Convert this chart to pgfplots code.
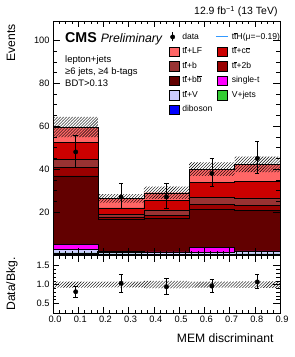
\documentclass[border=0pt]{standalone}
\usepackage{fontspec}
\setmainfont{Liberation Sans}
\usepackage{pgfplots}
\usepackage{pgfplotstable}
\pgfplotsset{compat=1.18}
\usetikzlibrary{patterns}

\definecolor{cLF}{HTML}{FF6666}
\definecolor{cCC}{HTML}{CC0000}
\definecolor{cB}{HTML}{993333}
\definecolor{cTwoB}{HTML}{990000}
\definecolor{cBB}{HTML}{620000}
\definecolor{cST}{HTML}{FF00FF}
\definecolor{cTTV}{HTML}{CCCCFF}
\definecolor{cVJ}{HTML}{33CC33}
\definecolor{cDIB}{HTML}{0000FF}
\definecolor{cTTH}{HTML}{3399FF}

\newcommand{\ob}[1]{\vbox{\hrule height 0.35pt\kern0.6pt\hbox{#1}}}
\newcommand{\lt}[1]{\makebox[32.5bp][l]{\kern1.5bp#1}}

% background per bin (lower edge), last row repeats the last bin
\pgfplotstableread{
lo   dib vj  ttv st  bb   btwo b   cc  lf
0.00 0.2 0.8 1.7 2.2 31.9 4.1 3.7 8.0 7.0
0.18 0.2 0.3 0.7 0.6 14.8 1.2 1.1 3.1 4.4
0.36 0.2 0.2 0.8 0.3 15.6 1.4 2.4 4.7 3.4
0.54 0.2 0.2 0.8 2.3 17.9 2.3 3.2 7.0 6.1
0.72 0.2 0.3 1.2 0.2 19.0 2.3 3.4 7.8 7.8
0.90 0.2 0.3 1.2 0.2 19.0 2.3 3.4 7.8 7.8
}\bkg
\pgfplotstablecreatecol[create col/expr={\thisrow{dib}}]{c1}\bkg
\pgfplotstablecreatecol[create col/expr={\thisrow{c1}+\thisrow{vj}}]{c2}\bkg
\pgfplotstablecreatecol[create col/expr={\thisrow{c2}+\thisrow{ttv}}]{c3}\bkg
\pgfplotstablecreatecol[create col/expr={\thisrow{c3}+\thisrow{st}}]{c4}\bkg
\pgfplotstablecreatecol[create col/expr={\thisrow{c4}+\thisrow{bb}}]{c5}\bkg
\pgfplotstablecreatecol[create col/expr={\thisrow{c5}+\thisrow{btwo}}]{c6}\bkg
\pgfplotstablecreatecol[create col/expr={\thisrow{c6}+\thisrow{b}}]{c7}\bkg
\pgfplotstablecreatecol[create col/expr={\thisrow{c7}+\thisrow{cc}}]{c8}\bkg
\pgfplotstablecreatecol[create col/expr={\thisrow{c8}+\thisrow{lf}}]{c9}\bkg

\pgfplotstableread{
x    y  ep  em
0.09 48 7.9 6.9
0.27 27 6.3 5.2
0.45 27 6.3 5.2
0.63 38 7.2 6.1
0.81 45 7.8 6.7
}\datatab

\pgfplotstableread{
x    r     ep    em
0.09 0.81  0.145 0.13
0.27 1.035 0.245 0.225
0.45 0.94  0.22  0.20
0.63 0.96  0.19  0.16
0.81 1.07  0.21  0.16
}\ratiotab

\pgfplotsset{
  boxleg/.style={legend image code/.code={\draw[##1,draw=black,line width=0.3pt] (0bp,-4.8bp) rectangle (10bp,4.8bp);}},
  stk/.style={boxleg, const plot, fill=#1, draw=black, line width=0.3pt},
  common/.style={
    scale only axis, width=227bp, xmin=0, xmax=0.9,
    xtick={0,0.1,0.2,0.3,0.4,0.5,0.6,0.7,0.8,0.9},
    minor x tick num=3,
    tick align=inside, major tick length=6.5bp, minor tick length=3.5bp,
    tick style={black, line width=0.5pt},
    axis line style={line width=0.6pt},
    tick label style={font=\fontsize{9.3}{11}\selectfont},
    /pgf/number format/assume math mode=true,
    axis on top,
  },
}

\begin{document}
\begin{tikzpicture}
\path[use as bounding box] (-53bp,-102bp) rectangle (242bp,255bp);

\begin{axis}[common, name=main, at={(0bp,0bp)}, anchor=south west,
  height=234bp, ymin=0, ymax=109,
  xticklabels={},
  ytick={20,40,60,80,100}, minor y tick num=3,
  legend columns=2, legend cell align=left,
  legend style={at={(0.508,0.955)}, anchor=north west, draw=none, fill=none,
    font=\fontsize{8.6}{10}\selectfont, row sep=4bp, inner sep=0pt,
    nodes={inner xsep=2bp, inner ysep=1bp, text height=6.5bp, text depth=2bp}},
]
\addlegendimage{legend image code/.code={\path[draw=none,fill=none] (0bp,-4.8bp) rectangle (10bp,4.8bp);
  \draw[black,line width=0.6pt] (4bp,-4.5bp)--(4bp,4.5bp); \fill[black] (4bp,0bp) circle (2.2bp);}}
\addlegendentry{\lt{data}}
\addlegendimage{legend image code/.code={\path[draw=none,fill=none] (0bp,-4.8bp) rectangle (10bp,4.8bp);
  \draw[cTTH,line width=1pt] (-1bp,0bp)--(11bp,0bp);}}
\addlegendentry{\lt{t\ob{t}H(μ=−0.19)}}

\addplot[stk=cLF]   table[x=lo,y=c9]{\bkg} \closedcycle; \addlegendentry{\lt{t\ob{t}+LF}}
\addplot[stk=cCC]   table[x=lo,y=c8]{\bkg} \closedcycle; \addlegendentry{\lt{t\ob{t}+c\ob{c}}}
\addplot[stk=cB]    table[x=lo,y=c7]{\bkg} \closedcycle; \addlegendentry{\lt{t\ob{t}+b}}
\addplot[stk=cTwoB] table[x=lo,y=c6]{\bkg} \closedcycle; \addlegendentry{\lt{t\ob{t}+2b}}
\addplot[stk=cBB]   table[x=lo,y=c5]{\bkg} \closedcycle; \addlegendentry{\lt{t\ob{t}+b\ob{b}}}
\addplot[stk=cST]   table[x=lo,y=c4]{\bkg} \closedcycle; \addlegendentry{\lt{single-t}}
\addplot[stk=cTTV]  table[x=lo,y=c3]{\bkg} \closedcycle; \addlegendentry{\lt{t\ob{t}+V}}
\addplot[stk=cVJ]   table[x=lo,y=c2]{\bkg} \closedcycle; \addlegendentry{\lt{V+jets}}
\addplot[stk=cDIB]  table[x=lo,y=c1]{\bkg} \closedcycle; \addlegendentry{\lt{diboson}}

% background uncertainty band (upper edge forward, lower edge back)
\addplot[forget plot, draw=none, pattern=north east lines, pattern color=black] coordinates {
 (0,64.3)(0.18,64.3)(0.18,28.4)(0.36,28.4)(0.36,31.8)(0.54,31.8)(0.54,43.2)(0.72,43.2)(0.72,45.8)(0.9,45.8)
 (0.9,38.6)(0.72,38.6)(0.72,36.8)(0.54,36.8)(0.54,26.2)(0.36,26.2)(0.36,24.4)(0.18,24.4)(0.18,54.9)(0,54.9)} -- cycle;

\addplot[forget plot, only marks, mark=*, mark size=2.2bp, black,
  error bars/.cd, y dir=both, y explicit, error bar style={line width=0.6pt}]
  table[x=x,y=y,y error plus=ep,y error minus=em]{\datatab};
\end{axis}

\begin{axis}[common, at={(main.south west)}, anchor=north west,
  height=58bp, ymin=0.25, ymax=1.78,
  ytick={0.5,1.0,1.5}, minor y tick num=4,
  xticklabel style={xshift=2bp, /pgf/number format/.cd, fixed, fixed zerofill, precision=1},
  yticklabel style={/pgf/number format/.cd, fixed, fixed zerofill, precision=1},
]
\addplot[draw=none, pattern=north east lines, pattern color=black] coordinates {
 (0,1.079)(0.18,1.079)(0.18,1.076)(0.36,1.076)(0.36,1.097)(0.54,1.097)(0.54,1.080)(0.72,1.080)(0.72,1.085)(0.9,1.085)
 (0.9,0.915)(0.72,0.915)(0.72,0.920)(0.54,0.920)(0.54,0.903)(0.36,0.903)(0.36,0.924)(0.18,0.924)(0.18,0.921)(0,0.921)} -- cycle;
\addplot[only marks, mark=*, mark size=2.2bp, black,
  error bars/.cd, y dir=both, y explicit, error bar style={line width=0.6pt}]
  table[x=x,y=r,y error plus=ep,y error minus=em]{\ratiotab};
\end{axis}

\node[anchor=base east, font=\fontsize{10.5}{12}\selectfont] at (228bp,240bp) {12.9 fb\textsuperscript{−1} (13 TeV)};
\node[rotate=90, anchor=base east, font=\fontsize{12.2}{14}\selectfont] at (-38bp,234bp) {Events};
\node[rotate=90, anchor=base, font=\fontsize{12.2}{14}\selectfont] at (-38bp,-29bp) {Data/Bkg.};
\node[anchor=base east, font=\fontsize{12.2}{14}\selectfont] at (224bp,-87bp) {MEM discriminant};
\node[anchor=base west, inner sep=0pt] at (12bp,212bp) {\fontsize{14.3}{16}\selectfont\bfseries CMS \fontsize{12.3}{14}\selectfont\mdseries\itshape Preliminary};
\node[anchor=base west, inner sep=0pt, font=\fontsize{9.5}{11.7}\selectfont] at (12bp,192bp) {lepton+jets};
\node[anchor=base west, inner sep=0pt, font=\fontsize{9.5}{11.7}\selectfont] at (12bp,180.3bp) {≥6 jets, ≥4 b-tags};
\node[anchor=base west, inner sep=0pt, font=\fontsize{9.5}{11.7}\selectfont] at (12bp,168.6bp) {BDT>0.13};
\end{tikzpicture}
\end{document}
